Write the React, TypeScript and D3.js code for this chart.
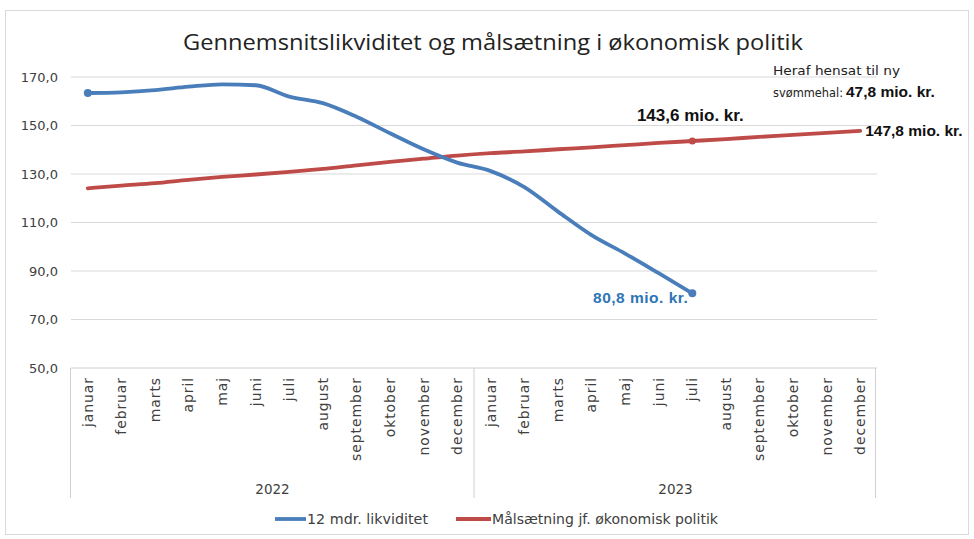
import React from "react";
import * as d3 from "d3";

const months = ["januar","februar","marts","april","maj","juni","juli","august","september","oktober","november","december"];
const years = ["2022","2023"];
const liquidity = [163.4,163.7,164.6,166.0,167.0,166.6,161.9,159.2,153.6,146.8,140.2,134.7,131.2,124.6,114.5,104.8,97.2,89.1,80.8];
const target = [124.1,125.2,126.2,127.6,128.8,129.8,130.9,132.1,133.6,135.0,136.3,137.6,138.6,139.3,140.2,141.0,141.9,142.8,143.6,144.4,145.3,146.1,147.0,147.8];
const yTicks = [50,70,90,110,130,150,170];
const seriesNames = ["12 mdr. likviditet","Målsætning jf. økonomisk politik"];

const W = 974, H = 539;
const FONT = "'DejaVu Sans', 'Open Sans', sans-serif";
const BOLDFONT = "'Liberation Sans', Arial, sans-serif";
const BLUE = "#4a7ebb";
const RED = "#be4b48";
const TXT = "#404040";

export default function App() {
  const cats = years.flatMap((y) => months.map((m) => `${y}-${m}`));
  const x = d3.scaleBand<string>().domain(cats).range([71, 877]);
  const y = d3.scaleLinear().domain([50, 170]).range([368, 77]);
  const cx = (i: number) => (x(cats[i]) as number) + x.bandwidth() / 2;
  const line = d3.line<number>().x((_, i) => cx(i)).y((d) => y(d)).curve(d3.curveMonotoneX);
  const fmt = (v: number) => v.toFixed(1).replace(".", ",");
  const lastBlue = liquidity.length - 1;
  const markRed = 18;
  const lastRed = target.length - 1;
  const x0 = x.range()[0], x1 = x.range()[1];
  const yearW = x.bandwidth() * months.length;

  return (
    <svg width={W} height={H} style={{ position: "absolute", left: 0, top: 0, background: "#fff" }} fontFamily={FONT}>
      <rect x={5.5} y={10.5} width={963} height={524} fill="#fff" stroke="#d9d9d9" />
      <text x={493} y={50} textAnchor="middle" fontSize={22} fill="#222" fontFamily="'Open Sans', sans-serif" textLength={620} lengthAdjust="spacingAndGlyphs">
        Gennemsnitslikviditet og målsætning i økonomisk politik
      </text>
      {yTicks.map((t) => (
        <g key={t}>
          <line x1={x0} x2={x1} y1={y(t)} y2={y(t)} stroke={t === 50 ? "#d0d0d0" : "#d9d9d9"} strokeWidth={1} />
          <text x={58} y={y(t)} dy="0.35em" textAnchor="end" fontSize={13} fill={TXT}>{fmt(t)}</text>
        </g>
      ))}
      {/* category box */}
      <line x1={x0 - 0.5} x2={x0 - 0.5} y1={368} y2={498} stroke="#d0d0d0" />
      <line x1={x0 + yearW} x2={x0 + yearW} y1={368} y2={498} stroke="#d0d0d0" />
      <line x1={x1 - 1.5} x2={x1 - 1.5} y1={368} y2={498} stroke="#d0d0d0" />
      {cats.map((c, i) => (
        <text key={c} transform={`translate(${cx(i)},377) rotate(-90)`} dy="0.35em" textAnchor="end" fontSize={14} letterSpacing={0.9} fill={TXT}>
          {months[i % 12]}
        </text>
      ))}
      {years.map((yr, k) => (
        <text key={yr} x={x0 + yearW * k + yearW / 2} y={494} textAnchor="middle" fontSize={13.5} fill={TXT}>{yr}</text>
      ))}
      <path d={line(target) || ""} fill="none" stroke={RED} strokeWidth={3.8} strokeLinecap="round" />
      <path d={line(liquidity) || ""} fill="none" stroke={BLUE} strokeWidth={3.8} strokeLinecap="round" />
      <circle cx={cx(0)} cy={y(liquidity[0])} r={4} fill={BLUE} />
      <circle cx={cx(lastBlue)} cy={y(liquidity[lastBlue])} r={4} fill={BLUE} />
      <circle cx={cx(markRed)} cy={y(target[markRed])} r={3.5} fill={RED} />
      {/* annotations */}
      <text x={cx(lastBlue) - 4} y={y(liquidity[lastBlue]) + 10} textAnchor="end" fontSize={15.5} fontWeight="bold" fill="#2e75b6" fontFamily={BOLDFONT} letterSpacing={0.5}>
        {fmt(liquidity[lastBlue])} mio. kr.
      </text>
      <text x={cx(markRed) - 2} y={y(target[markRed]) - 20} textAnchor="middle" fontSize={17} fontWeight="bold" fill="#111" fontFamily={BOLDFONT}>
        {fmt(target[markRed])} mio. kr.
      </text>
      <text x={cx(lastRed) + 5} y={y(target[lastRed])} dy="0.35em" fontSize={15.5} fontWeight="bold" fill="#111" fontFamily={BOLDFONT}>
        {fmt(target[lastRed])} mio. kr.
      </text>
      <text x={773} y={75} fontSize={13} fill="#222" textLength={127} lengthAdjust="spacingAndGlyphs">Heraf hensat til ny</text>
      <text x={773} y={97} fontSize={13} fill="#222">
        <tspan textLength={70} lengthAdjust="spacingAndGlyphs">svømmehal:</tspan>
        <tspan fontWeight="bold" fill="#111" dx={3} fontFamily={BOLDFONT} fontSize={15.5}>47,8 mio. kr.</tspan>
      </text>
      {/* legend */}
      <line x1={275} x2={306} y1={519} y2={519} stroke={BLUE} strokeWidth={3.8} />
      <text x={307} y={519} dy="0.35em" fontSize={13.5} fill={TXT} textLength={121} lengthAdjust="spacingAndGlyphs">{seriesNames[0]}</text>
      <line x1={456} x2={491} y1={519} y2={519} stroke={RED} strokeWidth={3.8} />
      <text x={492} y={519} dy="0.35em" fontSize={13.5} fill={TXT} textLength={226} lengthAdjust="spacingAndGlyphs">{seriesNames[1]}</text>
    </svg>
  );
}
